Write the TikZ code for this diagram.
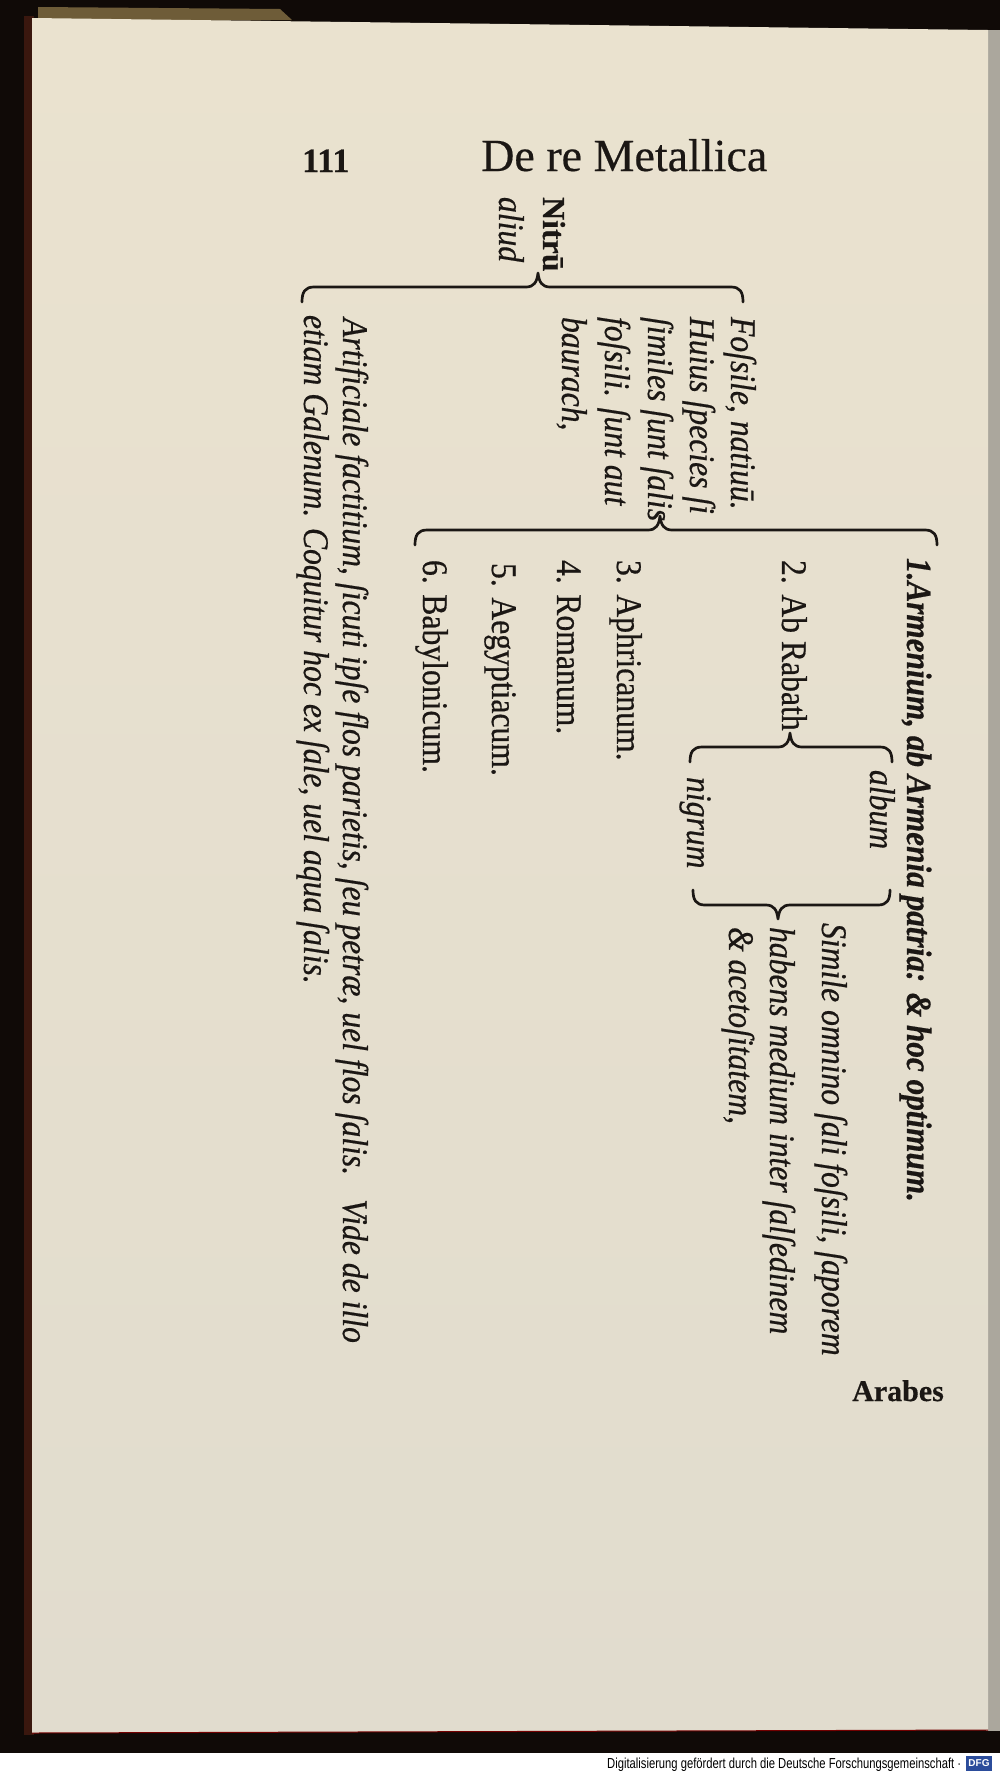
\documentclass[tikz,border=0pt]{standalone}
\usepackage{fontspec}
\usepackage{graphicx}
\setmainfont{Liberation Serif}
\setsansfont{Liberation Sans}
\newfontfamily\oldface{Liberation Serif}[FakeBold=0.5,FakeStretch=0.88]
\newfontfamily\headface{Liberation Serif}[FakeBold=0.4]
\definecolor{paper}{HTML}{E1DCCE}
\definecolor{papertop}{HTML}{EAE2CF}
\definecolor{inkc}{HTML}{1B1714}
\definecolor{darkband}{HTML}{100A07}
\definecolor{redband}{HTML}{3A170E}
\definecolor{edgegrey}{HTML}{ABA79D}
\definecolor{stain}{HTML}{6E5C38}
\definecolor{dfgblue}{HTML}{2B4C9B}
\tikzset{
  ink/.style={draw=inkc, line width=2.7pt, line cap=round, line join=round},
  col/.style={rotate=-90, anchor=base west, inner sep=0pt, outer sep=0pt, text=inkc},
  itcol/.style={col, font=\oldface\itshape\fontsize{36}{36}\selectfont},
  itboldcol/.style={col, font=\oldface\bfseries\itshape\fontsize{35.5}{36}\selectfont},
  rmcol/.style={col, font=\oldface\fontsize{36}{36}\selectfont},
  rmboldcol/.style={col, font=\headface\bfseries\fontsize{32}{32}\selectfont},
  headtxt/.style={anchor=base west, inner sep=0pt, text=inkc, font=\headface\fontsize{46}{46}\selectfont},
  headnum/.style={anchor=base west, inner sep=0pt, text=inkc, font=\headface\bfseries\fontsize{34}{34}\selectfont},
  catchword/.style={anchor=base west, inner sep=0pt, text=inkc, font=\headface\bfseries\fontsize{30}{30}\selectfont},
}
% #1 name, #2 left x, #3 right x, #4 tip x, #5 line y, #6 direction (1: ends down, tip up)
\newcommand\mybrace[6]{%
  \coordinate (#1-l) at ({#2},{#5+15*#6});
  \coordinate (#1-t) at ({#4},{#5-14*#6});
  \coordinate (#1-r) at ({#3},{#5+15*#6});
  \draw[ink] (#1-l) .. controls ({#2},{#5+5*#6}) and ({#2+3},{#5}) .. ({#2+12},{#5})
    -- ({#4-12},{#5}) .. controls ({#4-4},{#5}) and ({#4-1},{#5-5*#6}) .. (#1-t)
    .. controls ({#4+1},{#5-5*#6}) and ({#4+4},{#5}) .. ({#4+12},{#5})
    -- ({#3-12},{#5}) .. controls ({#3-3},{#5}) and ({#3},{#5+5*#6}) .. (#1-r);
}
\begin{document}
\begin{tikzpicture}[x=1pt,y=-1pt]
\useasboundingbox (0,0) rectangle (1000,1773);
% page and scan surroundings
\fill[white] (0,0) rectangle (1000,1773);
\fill[darkband] (0,0) rectangle (1000,1753);
\fill[edgegrey] (986,30) rectangle (1000,1731);
\fill[redband] (24,16) rectangle (34,1735);
\fill[stain] (38,7) -- (280,9) -- (292,20) -- (38,22) -- cycle;
\shade[top color=papertop, bottom color=paper] (32,18) -- (988,30) -- (988,1730) -- (32,1733) -- cycle;
\draw[red!45!black, line width=1pt] (32,1733) -- (988,1730);

% header
\node[headnum] (pg) at (302,172) {111};
\node[headtxt] (title) at (481,171) {De re Metallica};

% root
\node[rmboldcol] (nitrum) at (543,197) {Nitrū};
\node[itcol] (aliud) at (499,197) {aliud};
\mybrace{root}{302}{743}{538}{287}{1}

% fossile block
\node[itcol] (f1) at (731,317) {Foſsile, natiuū.};
\node[itcol] (f2) at (690,317) {Huius ſpecies ſi};
\node[itcol] (f3) at (648,317) {ſimiles ſunt ſalis};
\node[itcol] (f4) at (605,317) {foſsili. ſunt aut};
\node[itcol] (f5) at (562,317) {baurach,};

% artificiale block
\node[itcol] (a1) at (343,318) {Artificiale factitium, ſicuti ipſe flos parietis, ſeu petræ, uel flos ſalis.\hspace{24pt}Vide de illo};
\node[itcol] (a2) at (304,315) {etiam Galenum. Coquitur hoc ex ſale, uel aqua ſalis.};

% species
\mybrace{spec}{415}{937}{660}{530}{1}
\node[itboldcol] (s1) at (907,558) {1.Armenium, ab Armenia patria: \& hoc optimum.};
\node[rmcol] (s2) at (782,560) {2. Ab Rabath};
\mybrace{rab}{690}{892}{790}{747}{1}
\node[itcol] (alb) at (870,770) {album};
\node[itcol] (nig) at (687,777) {nigrum};
\mybrace{clo}{693}{890}{778}{905}{(-1)}
\node[itcol] (d1) at (822,923) {Simile omnino ſali foſsili, ſaporem};
\node[itcol] (d2) at (770,927) {habens medium inter ſalſedinem};
\node[itcol] (d3) at (729,927) {\& acetoſitatem,};
\node[rmcol] (s3) at (617,560) {3. Aphricanum.};
\node[rmcol] (s4) at (557,560) {4. Romanum.};
\node[rmcol] (s5) at (492,563) {5. Aegyptiacum.};
\node[rmcol] (s6) at (423,560) {6. Babylonicum.};

% catchword
\node[catchword] (arabes) at (852,1401) {Arabes};

% digitisation footer
\node[anchor=base west, inner sep=0pt] (dfgtxt) at (607,1768) {\resizebox{354pt}{10.5pt}{\sffamily Digitalisierung gefördert durch die Deutsche Forschungsgemeinschaft ·}};
\node[fill=dfgblue, minimum width=26pt, minimum height=15pt, inner sep=0pt, text=white, font=\sffamily\bfseries\fontsize{10}{10}\selectfont] (dfglogo) at (979,1763.5) {DFG};
\end{tikzpicture}
\end{document}
